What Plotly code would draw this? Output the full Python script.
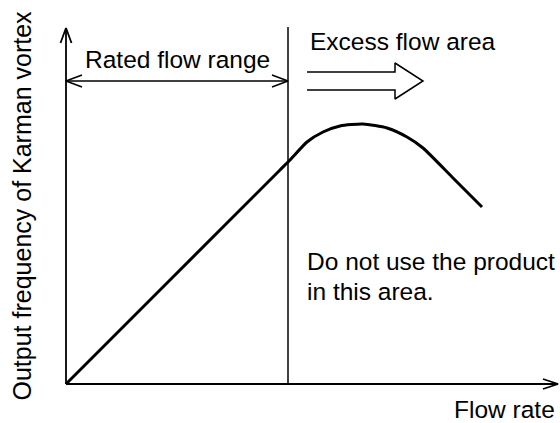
import plotly.graph_objects as go

# chart units: origin of the axes at (0, 0), one unit per pixel
curve_x = [0, 107, 214, 224, 241, 257, 274, 297, 321, 341, 357, 386, 416]
curve_y = [0, 107, 214, 224, 242, 252, 258, 260, 256, 247, 236, 207, 177]

# axes with open arrowheads
yaxis_x = [0, 0, None, -5.5, 0, 5.5]
yaxis_y = [0, 356, None, 341, 356, 341]
xaxis_x = [0, 492, None, 477, 492, 477]
xaxis_y = [0, 0, None, 5, 0, -5]

# boundary of the rated flow range
limit_x = [222, 222]
limit_y = [0, 357]

# double arrow over the rated flow range
rated_x = [0, 222, None, 16, 0, 16, None, 206, 222, 206]
rated_y = [303, 303, None, 309, 303, 297, None, 309, 303, 297]

# hollow arrow pointing into the excess flow area
excess_x = [241, 329, 329, 357, 329, 329, 241]
excess_y = [312, 312, 321, 303, 285, 294, 294]

FONT = "Arial, Liberation Sans, sans-serif"

fig = go.Figure()

def add_line(x, y, width):
    fig.add_trace(go.Scatter(x=x, y=y, mode="lines", hoverinfo="skip",
                             line=dict(color="black", width=width)))

add_line(yaxis_x, yaxis_y, 1.8)
add_line(xaxis_x, xaxis_y, 1.8)
add_line(limit_x, limit_y, 1.5)
add_line(rated_x, rated_y, 1.5)
add_line(excess_x, excess_y, 1.5)

fig.add_trace(go.Scatter(x=curve_x, y=curve_y, mode="lines", hoverinfo="skip",
                         line=dict(color="black", width=3, shape="spline",
                                   smoothing=0.6)))

labels = [
    dict(text="Rated flow range", x=111, y=325, xanchor="center"),
    dict(text="Excess flow area", x=336.5, y=343, xanchor="center"),
    dict(text="Do not use the product", x=239, y=123, xanchor="left"),
    dict(text="in this area.", x=239, y=93, xanchor="left"),
    dict(text="Flow rate", x=491, y=-25, xanchor="right"),
]
for lab in labels:
    fig.add_annotation(showarrow=False, yanchor="middle",
                       font=dict(family=FONT, size=24.5, color="black"), **lab)

fig.add_annotation(text="Output frequency of Karman vortex", x=-44.5, y=178,
                   textangle=-90, showarrow=False, xanchor="center",
                   yanchor="middle",
                   font=dict(family=FONT, size=25, color="black"))

fig.update_layout(
    width=560, height=423,
    margin=dict(l=0, r=0, t=0, b=0),
    paper_bgcolor="white", plot_bgcolor="white",
    showlegend=False,
    xaxis=dict(range=[-66, 494], visible=False, fixedrange=True),
    yaxis=dict(range=[-39, 384], visible=False, fixedrange=True),
)

fig.write_html("out.html", config={"displayModeBar": False},
               post_script="document.body.style.margin='0';")
